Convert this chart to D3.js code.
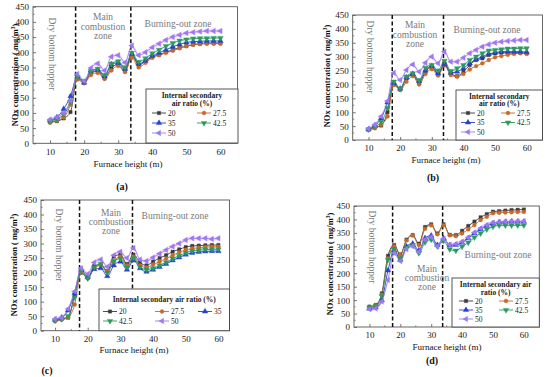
<!DOCTYPE html>
<html><head><meta charset="utf-8">
<script src="https://cdn.jsdelivr.net/npm/d3@7"></script>
<style>
html,body{margin:0;padding:0;background:#fff;}
svg{display:block;font-family:"Liberation Serif","DejaVu Serif",serif;}
</style></head>
<body><svg id="chart" width="550" height="377"></svg>
<script>
// ---- data ----
const furnaceHeight = [10,12,14,16,18,20,22,24,26,28,30,32,34,36,38,40,42,44,46,48,50,52,54,56,58,60];
const seriesLabels = ["20","27.5","35","42.5","50"];
const yTicks = [0,50,100,150,200,250,300,350,400,450];
const xTicks = [10,20,30,40,50,60];
const zoneBounds = [17.5, 33.7];
const panelLabels = ["(a)","(b)","(c)","(d)"];

const a20  = [70,73,82,103,215,200,230,238,215,248,260,238,290,258,270,285,292,300,308,315,320,325,328,330,330,330];
const a275 = [68,75,85,128,210,198,225,232,212,240,255,235,282,250,265,282,290,298,305,313,320,325,327,328,328,328];
const a35  = [75,85,113,155,220,200,240,242,220,260,265,245,295,262,272,288,298,308,318,326,332,335,336,337,337,337];
const a425 = [72,80,95,135,218,205,238,245,225,262,270,250,298,268,280,296,308,320,330,338,342,345,346,346,347,347];
const a50  = [78,86,100,140,228,205,248,263,240,285,290,266,322,290,300,316,328,340,350,357,363,366,368,370,370,370];

const b20  = [38,45,52,100,200,182,222,234,205,246,262,236,275,240,230,246,270,288,294,306,312,314,314,314,314,312];
const b275 = [36,42,55,85,198,180,210,230,200,238,255,232,268,234,228,238,254,266,276,288,298,302,307,310,312,310];
const b35  = [38,52,78,135,205,185,225,238,212,250,266,240,272,242,246,258,276,290,300,310,314,318,318,318,318,316];
const b425 = [38,48,65,115,210,185,228,240,215,260,270,250,285,248,258,270,288,300,312,322,324,326,329,329,330,330];
const b50  = [40,55,85,140,242,216,252,272,246,278,300,276,318,282,282,296,312,324,336,344,350,354,356,358,360,360];

const c20  = [35,40,45,125,200,182,222,228,205,255,262,230,262,235,225,238,250,260,272,280,288,292,293,294,295,295];
const c275 = [33,38,45,90,200,180,215,225,205,238,255,225,255,225,218,228,238,248,260,270,278,283,286,288,289,289];
const c35  = [38,45,70,130,210,185,212,215,188,225,238,210,242,215,203,210,220,230,242,252,262,268,271,273,274,274];
const c425 = [35,40,50,115,205,180,218,230,200,240,248,218,250,220,210,215,225,235,248,258,268,274,277,279,280,280];
const c50  = [40,45,75,135,215,195,235,245,220,260,272,250,285,245,240,252,265,278,290,300,312,318,318,318,316,318];

const d20  = [76,82,125,265,305,270,325,342,310,372,382,348,382,343,342,358,376,392,408,420,429,431,433,435,436,437];
const d275 = [74,80,120,255,300,268,322,340,305,365,378,345,378,341,338,348,363,379,398,410,423,425,426,427,428,428];
const d35  = [68,73,100,210,285,250,300,310,285,330,340,305,330,304,305,314,330,348,363,376,385,390,391,392,392,392];
const d425 = [72,78,115,250,290,255,295,305,275,315,325,300,320,289,284,299,314,333,348,363,373,378,378,378,378,378];
const d50  = [66,69,95,175,275,245,290,300,280,325,335,300,328,306,309,317,333,351,367,379,388,390,392,393,393,393];

// ---- styles ----
const colors = ["#3a3a3a","#c8692a","#2840d0","#2e9a5a","#9a7af0"];
const symbolTypes = [d3.symbolSquare, d3.symbolCircle, d3.symbolTriangle, d3.symbolTriangle, d3.symbolTriangle];
const symbolRot = [0,0,0,180,-90];
const symbolSize = [11,12,13,13,13];

const panels = [
  {data:[a20,a275,a35,a425,a50], L:33, R:237.5, T:6.7, B:143.3, xd:[5,65],
   ytitle:{x:15,y:75}, xtitle:{x:128,y:164}, plabel:{x:122,y:186},
   dry:{x:52,y:54}, main:{x:103,y:17,dy:9.5}, burn:{x:178,y:24},
   leg:{x:146,y:89,w:92,h:54,title:["Internal secondary","air ratio (%)"],ty:[95.5,103],cols:[152,197],rows:[113,123,133],order:[[0,0],[1,0],[0,1],[1,1],[0,2]]}},
  {data:[b20,b275,b35,b425,b50], L:352.7, R:542.5, T:15, B:140, xd:[5,65],
   ytitle:{x:327,y:76}, xtitle:{x:446,y:160}, plabel:{x:433,y:177},
   dry:{x:370,y:57}, main:{x:415,y:25,dy:9.5}, burn:{x:487,y:30},
   leg:{x:456,y:90,w:86.5,h:50,title:["Internal secondary","air ratio (%)"],ty:[96,103.5],cols:[461,501],rows:[113,122.5,132],order:[[0,0],[1,0],[0,1],[1,1],[0,2]]}},
  {data:[c20,c275,c35,c425,c50], L:41, R:229.5, T:200, B:330.7, xd:[5.7,63.4],
   ytitle:{x:14,y:265}, xtitle:{x:134,y:350}, plabel:{x:47,y:370},
   dry:{x:59,y:245}, main:{x:111,y:213,dy:8.8}, burn:{x:175,y:216},
   leg:{x:99,y:289,w:130.5,h:41.7,title:["Internal secondary air ratio (%)"],ty:[299],cols:[103,155,198],rows:[311.5,321],order:[[0,0],[1,0],[2,0],[0,1],[1,1]]}},
  {data:[d20,d275,d35,d425,d50], L:354, R:539.3, T:206, B:327, xd:[5,65],
   ytitle:{x:330,y:264}, xtitle:{x:447,y:347}, plabel:{x:432,y:360},
   dry:{x:372,y:247}, main:{x:427,y:269,dy:8.6}, burn:{x:498,y:255},
   leg:{x:452,y:278,w:87.3,h:49,title:["Internal secondary air","ratio (%)"],ty:[284.5,292],cols:[459,499],rows:[301,310,319],order:[[0,0],[1,0],[0,1],[1,1],[0,2]]}}
];

const svg = d3.select("#chart");

function marker(g, i, x, y){
  g.append("path")
   .attr("d", d3.symbol().type(symbolTypes[i]).size(symbolSize[i])())
   .attr("transform", `translate(${x},${y}) rotate(${symbolRot[i]})`)
   .attr("fill", colors[i]).attr("stroke", colors[i]).attr("stroke-width",0.4);
}

panels.forEach((p, pi) => {
  const g = svg.append("g");
  const x = d3.scaleLinear().domain(p.xd).range([p.L, p.R]);
  const y = d3.scaleLinear().domain([0,450]).range([p.B, p.T]);

  // faint bands
  const bandDefs = [{s:4, c:"#f6b6ec"},{s:3, c:"#a8f2f2"}];
  bandDefs.forEach(bd => {
    const area = d3.area().x((d,k)=>x(furnaceHeight[k])).y0(d=>y(d-8)).y1(d=>y(d+8)).curve(d3.curveMonotoneX);
    g.append("path").attr("d", area(p.data[bd.s])).attr("fill", bd.c).attr("opacity",0.35);
  });

  // frame
  g.append("rect").attr("x",p.L).attr("y",p.T).attr("width",p.R-p.L).attr("height",p.B-p.T)
   .attr("fill","none").attr("stroke","#555").attr("stroke-width",0.9);

  // axes (inward ticks)
  const yAxis = d3.axisLeft(y).tickValues(yTicks).tickSize(-3).tickPadding(4);
  const ya = g.append("g").attr("transform",`translate(${p.L},0)`).call(yAxis);
  const xAxis = d3.axisBottom(x).tickValues(xTicks).tickSize(-3).tickPadding(5);
  const xa = g.append("g").attr("transform",`translate(0,${p.B})`).call(xAxis);
  [ya,xa].forEach(a=>{
    a.select(".domain").remove();
    a.attr("font-family","Liberation Serif");
    a.selectAll("line").attr("stroke","#555").attr("stroke-width",0.8);
    a.selectAll("text").attr("font-size",9).attr("fill","#222");
  });
  // minor ticks
  const yMinor = yTicks.slice(0,-1).map((v,k)=>(v+yTicks[k+1])/2);
  g.selectAll(null).data(yMinor).enter().append("line")
   .attr("x1",p.L).attr("x2",p.L+1.6).attr("y1",d=>y(d)).attr("y2",d=>y(d)).attr("stroke","#555").attr("stroke-width",0.7);
  const xMinor = xTicks.map(v=>v-5).concat([xTicks[xTicks.length-1]+5]).filter(v=>v>p.xd[0]&&v<p.xd[1]);
  g.selectAll(null).data(xMinor).enter().append("line")
   .attr("y1",p.B).attr("y2",p.B-1.6).attr("x1",d=>x(d)).attr("x2",d=>x(d)).attr("stroke","#555").attr("stroke-width",0.7);

  // zone boundaries
  zoneBounds.forEach(z=>{
    g.append("line").attr("x1",x(z)).attr("x2",x(z)).attr("y1",p.T).attr("y2",p.B)
     .attr("stroke","#111").attr("stroke-width",1.5).attr("stroke-dasharray","4,2.5");
  });

  // zone text
  const zc = "#7a7a7a";
  g.append("text").attr("transform",`translate(${p.dry.x},${p.dry.y}) rotate(90)`)
   .attr("text-anchor","middle").attr("dy","0.35em").attr("font-size",9.5).attr("fill",zc).text("Dry bottom hopper");
  ["Main","combustion","zone"].forEach((t,k)=>{
    g.append("text").attr("x",p.main.x).attr("y",p.main.y+k*p.main.dy).attr("text-anchor","middle")
     .attr("dy","0.35em").attr("font-size",9.5).attr("fill",zc).text(t);
  });
  g.append("text").attr("x",p.burn.x).attr("y",p.burn.y).attr("text-anchor","middle").attr("dy","0.35em")
   .attr("font-size",9.5).attr("fill",zc).text("Burning-out zone");

  // series
  p.data.forEach((vals,i)=>{
    const line = d3.line().x((d,k)=>x(furnaceHeight[k])).y(d=>y(d)).curve(d3.curveMonotoneX);
    g.append("path").attr("d",line(vals)).attr("fill","none").attr("stroke",colors[i]).attr("stroke-width",0.9);
  });
  p.data.forEach((vals,i)=>{
    vals.forEach((v,k)=>marker(g,i,x(furnaceHeight[k]),y(v)));
  });

  // legend
  const lg = p.leg;
  g.append("rect").attr("x",lg.x).attr("y",lg.y).attr("width",lg.w).attr("height",lg.h)
   .attr("fill","#fff").attr("stroke","#444").attr("stroke-width",0.9);
  lg.title.forEach((t,k)=>{
    g.append("text").attr("x",lg.x+lg.w/2).attr("y",lg.ty[k]).attr("text-anchor","middle").attr("dy","0.35em")
     .attr("font-size",7.5).attr("font-weight","bold").attr("fill","#222").text(t);
  });
  seriesLabels.forEach((s,i)=>{
    const [ci,ri] = lg.order[i];
    const sx = lg.cols[ci], sy = lg.rows[ri];
    g.append("line").attr("x1",sx).attr("x2",sx+14).attr("y1",sy).attr("y2",sy).attr("stroke",colors[i]).attr("stroke-width",0.9);
    marker(g,i,sx+7,sy);
    g.append("text").attr("x",sx+16).attr("y",sy).attr("dy","0.35em").attr("font-size",7.5).attr("fill","#222").text(s);
  });

  // axis titles
  const yt = g.append("text").attr("transform",`translate(${p.ytitle.x},${p.ytitle.y}) rotate(-90)`)
   .attr("text-anchor","middle").attr("dy","0.35em").attr("font-size",8.5).attr("font-weight","bold").attr("fill","#111");
  yt.append("tspan").text("NOx concentration ( mg/m");
  yt.append("tspan").attr("font-size",5.5).attr("dy","-0.6em").text("3");
  yt.append("tspan").attr("dy","0.35em").text(")");
  g.append("text").attr("x",p.xtitle.x).attr("y",p.xtitle.y).attr("text-anchor","middle").attr("dy","0.35em")
   .attr("font-size",9).attr("fill","#111").text("Furnace height (m)");
  g.append("text").attr("x",p.plabel.x).attr("y",p.plabel.y).attr("text-anchor","middle").attr("dy","0.35em")
   .attr("font-size",10).attr("font-weight","bold").attr("fill","#111").text(panelLabels[pi]);
});
</script></body></html>
